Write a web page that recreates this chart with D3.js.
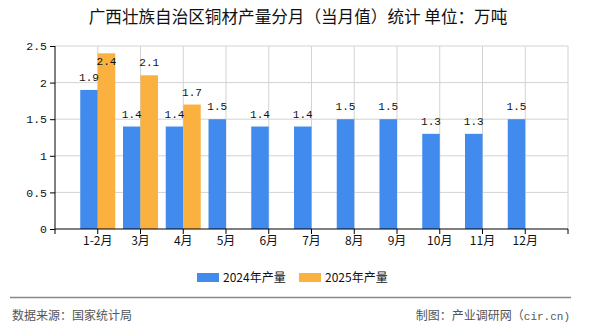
<!DOCTYPE html>
<html><head><meta charset="utf-8">
<script src="https://cdn.jsdelivr.net/npm/d3@7"></script>
<style>body{margin:0;background:#fff}svg{display:block}</style>
</head><body>
<svg id="c" width="590" height="330"></svg>
<script>
const title = "广西壮族自治区铜材产量分月（当月值）统计 单位：万吨";
const categories = ["1-2月","3月","4月","5月","6月","7月","8月","9月","10月","11月","12月"];
const series2024 = [1.9,1.4,1.4,1.5,1.4,1.4,1.5,1.5,1.3,1.3,1.5];
const series2025 = [2.4,2.1,1.7];
const seriesNames = ["2024年产量","2025年产量"];
const yTicks = [0,0.5,1,1.5,2,2.5];
const colors = ["#418bee","#fbb13f"];

const svg = d3.select("#c");
const L=55,R=568,T=46,B=229;
const x = d3.scalePoint().domain(categories).range([L,R]).padding(1);
const y = d3.scaleLinear().domain([0,2.5]).range([B,T]);
const bw = 17.5;
const cjk = "'Noto Sans CJK SC','Noto Sans',sans-serif";
const mono = "'Liberation Mono','DejaVu Sans Mono',monospace";

svg.append("text").attr("x",298).attr("y",23).attr("text-anchor","middle")
  .attr("font-family",cjk).attr("font-size",16.6).attr("fill","#111")
  .attr("xml:space","preserve").text(title);

// grid
const g = svg.append("g");
g.selectAll("line.h").data(yTicks.slice(1)).join("line")
  .attr("x1",L).attr("x2",R).attr("y1",d=>y(d)).attr("y2",d=>y(d))
  .attr("stroke","#d3d3d3");
const vlines = categories.map(c=>x(c)).concat([R]);
g.selectAll("line.v").data(vlines).join("line")
  .attr("x1",d=>d).attr("x2",d=>d).attr("y1",T).attr("y2",B)
  .attr("stroke","#d3d3d3");

// bars
const bars = svg.append("g");
bars.selectAll("rect.a").data(series2024).join("rect")
  .attr("x",(d,i)=>x(categories[i])-bw).attr("width",bw)
  .attr("y",d=>y(d)).attr("height",d=>B-y(d)).attr("fill",colors[0]);
bars.selectAll("rect.b").data(series2025).join("rect").attr("class","b")
  .attr("x",(d,i)=>x(categories[i])).attr("width",bw)
  .attr("y",d=>y(d)).attr("height",d=>B-y(d)).attr("fill",colors[1]);

function lab(data, off){
  svg.append("g").selectAll("text").data(data).join("text")
    .attr("x",(d,i)=>x(categories[i])+off).attr("text-anchor","middle")
    .attr("y",d=>{const t=y(d); return (t-18<T)? t+12 : t-9;})
    .attr("font-family",mono).attr("font-size",11).attr("fill","#111")
    .text(d=>d.toFixed(1));
}
lab(series2024,-bw/2);
lab(series2025,bw/2);

// axes
const yAxis = d3.axisLeft(y).tickValues(yTicks).tickSize(5).tickFormat(d=>String(d));
const ya = svg.append("g").attr("transform",`translate(${L},0)`).call(yAxis);
ya.select(".domain").attr("stroke","#000").attr("d",`M0,${T}V${B}`);
ya.selectAll("line").attr("stroke","#000");
ya.selectAll("text").attr("font-family",mono).attr("font-size",11.5).attr("fill","#111").attr("x",-8);

const xa = svg.append("g").attr("transform",`translate(0,${B})`);
xa.append("line").attr("x1",L).attr("x2",R).attr("stroke","#000").attr("stroke-width",1.2);
xa.selectAll("line.t").data([L].concat(vlines)).join("line").attr("class","t")
  .attr("x1",d=>d).attr("x2",d=>d).attr("y1",0).attr("y2",5).attr("stroke","#000");
xa.selectAll("text").data(categories).join("text")
  .attr("x",d=>x(d)).attr("y",16).attr("text-anchor","middle")
  .attr("font-family",cjk).attr("font-size",12).attr("fill","#111").text(d=>d);

// legend
const leg = svg.append("g");
const lx = [197,299];
seriesNames.forEach((n,i)=>{
  leg.append("rect").attr("x",lx[i]).attr("y",273).attr("width",22).attr("height",9).attr("fill",colors[i]);
  leg.append("text").attr("x",lx[i]+26).attr("y",282).attr("font-family",cjk).attr("font-size",12)
    .attr("fill","#111").text(n);
});

// footer
svg.append("line").attr("x1",10).attr("x2",571).attr("y1",297.5).attr("y2",297.5).attr("stroke","#888").attr("stroke-width",1.5);
svg.append("text").attr("x",12).attr("y",320).attr("font-family",cjk).attr("font-size",12).attr("fill","#555").text("数据来源：国家统计局");
const ft = svg.append("text").attr("x",570).attr("y",320).attr("text-anchor","end").attr("font-family",cjk).attr("font-size",12).attr("fill","#555");
ft.append("tspan").text("制图：产业调研网（");
ft.append("tspan").attr("font-family",mono).attr("font-size",11).text("cir.cn)");
</script>
</body></html>
